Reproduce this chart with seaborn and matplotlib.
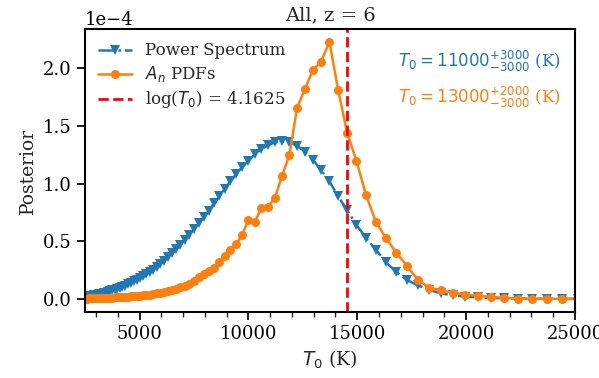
import numpy as np
import pandas as pd
import matplotlib
matplotlib.use("Agg")
import matplotlib.pyplot as plt
from matplotlib import ticker
import seaborn as sns

# log10(T0) grid of the posterior evaluation
log_t0 = np.linspace(3.4, 4.4, 81)

power_spectrum = [
    0.022, 0.024, 0.026, 0.028, 0.031, 0.034, 0.037, 0.040, 0.044, 0.048,
    0.052, 0.057, 0.062, 0.068, 0.075, 0.082, 0.090, 0.098, 0.107, 0.117,
    0.128, 0.140, 0.155, 0.168, 0.182, 0.197, 0.214, 0.233, 0.254, 0.277,
    0.302, 0.332, 0.363, 0.396, 0.433, 0.472, 0.515, 0.560, 0.607, 0.657,
    0.708, 0.760, 0.830, 0.890, 0.955, 1.020, 1.085, 1.145, 1.200, 1.255,
    1.300, 1.335, 1.360, 1.370, 1.360, 1.330, 1.280, 1.210, 1.120, 1.020,
    0.890, 0.770, 0.645, 0.530, 0.430, 0.320, 0.235, 0.165, 0.120, 0.080,
    0.050, 0.033, 0.022, 0.015, 0.010, 0.007, 0.005, 0.004, 0.003, 0.002,
    0.002,
]

an_pdfs = [
    0.005, 0.005, 0.006, 0.006, 0.007, 0.007, 0.008, 0.008, 0.009, 0.009,
    0.010, 0.010, 0.011, 0.012, 0.013, 0.014, 0.015, 0.016, 0.018, 0.019,
    0.021, 0.023, 0.025, 0.027, 0.030, 0.033, 0.036, 0.040, 0.044, 0.049,
    0.055, 0.062, 0.070, 0.079, 0.090, 0.103, 0.118, 0.135, 0.153, 0.190,
    0.217, 0.248, 0.268, 0.320, 0.375, 0.427, 0.476, 0.560, 0.685, 0.670,
    0.789, 0.800, 0.880, 1.070, 1.250, 1.655, 1.820, 1.985, 2.060, 2.230,
    1.810, 1.440, 1.200, 0.904, 0.673, 0.531, 0.404, 0.289, 0.167, 0.100,
    0.075, 0.057, 0.040, 0.029, 0.020, 0.011, 0.005, 0.003, 0.003, 0.003,
    0.001,
]

scale = 1e-4
log_t0_best = 4.1625
labels = ["Power Spectrum", "$A_n$ PDFs", "log($T_0$) = 4.1625"]
annot_ps = r"$T_0 = 11000^{+3000}_{-3000}$ (K)"
annot_an = r"$T_0 = 13000^{+2000}_{-3000}$ (K)"

df = pd.DataFrame({
    "T0": 10 ** log_t0,
    "ps": np.array(power_spectrum) * scale,
    "an": np.array(an_pdfs) * scale,
})

sns.set_theme(style="ticks")
plt.rcParams["font.family"] = ["DejaVu Serif"]
plt.rcParams["mathtext.fontset"] = "dejavusans"
plt.rcParams["font.size"] = 12

fig = plt.figure(figsize=(5.99, 3.78), dpi=100)
ax = fig.add_axes([0.142, 0.175, 0.818, 0.748])

sns.lineplot(data=df, x="T0", y="ps", ax=ax, color="#1f77b4", marker="v",
             markersize=7, markeredgewidth=0, linestyle="-.", linewidth=1.8,
             label=labels[0], sort=False)
sns.lineplot(data=df, x="T0", y="an", ax=ax, color="#ff7f0e", marker="o",
             markersize=6.5, markeredgewidth=0, linestyle="-", linewidth=1.8,
             label=labels[1], sort=False)
ax.axvline(10 ** log_t0_best, color="red", linestyle="--", linewidth=2,
           label=labels[2])

ax.set_xlim(2500, 25000)
ax.xaxis.set_major_locator(ticker.MultipleLocator(5000))
ax.xaxis.set_minor_locator(ticker.MultipleLocator(1000))
ax.ticklabel_format(axis="y", style="sci", scilimits=(0, 0))
ax.tick_params(axis="both", labelsize=13, colors="black", length=6)
ax.tick_params(axis="x", which="minor", length=3.5)
for sp in ax.spines.values():
    sp.set_color("black")
    sp.set_linewidth(1.5)

ax.set_xlabel("$T_0$ (K)", fontsize=13.5)
ax.set_ylabel("Posterior", fontsize=13.5)
ax.set_title("All, z = 6", fontsize=14)
ax.yaxis.get_offset_text().set_fontsize(13)

ax.legend(loc="upper left", frameon=False, fontsize=12, handlelength=2.0,
          borderaxespad=0.4, labelspacing=0.3)

ax.text(0.97, 0.885, annot_ps, color="#1f77b4", transform=ax.transAxes,
        ha="right", va="center", fontsize=12)
ax.text(0.97, 0.76, annot_an, color="#ff7f0e", transform=ax.transAxes,
        ha="right", va="center", fontsize=12)

fig.savefig("out.png", dpi=100)
